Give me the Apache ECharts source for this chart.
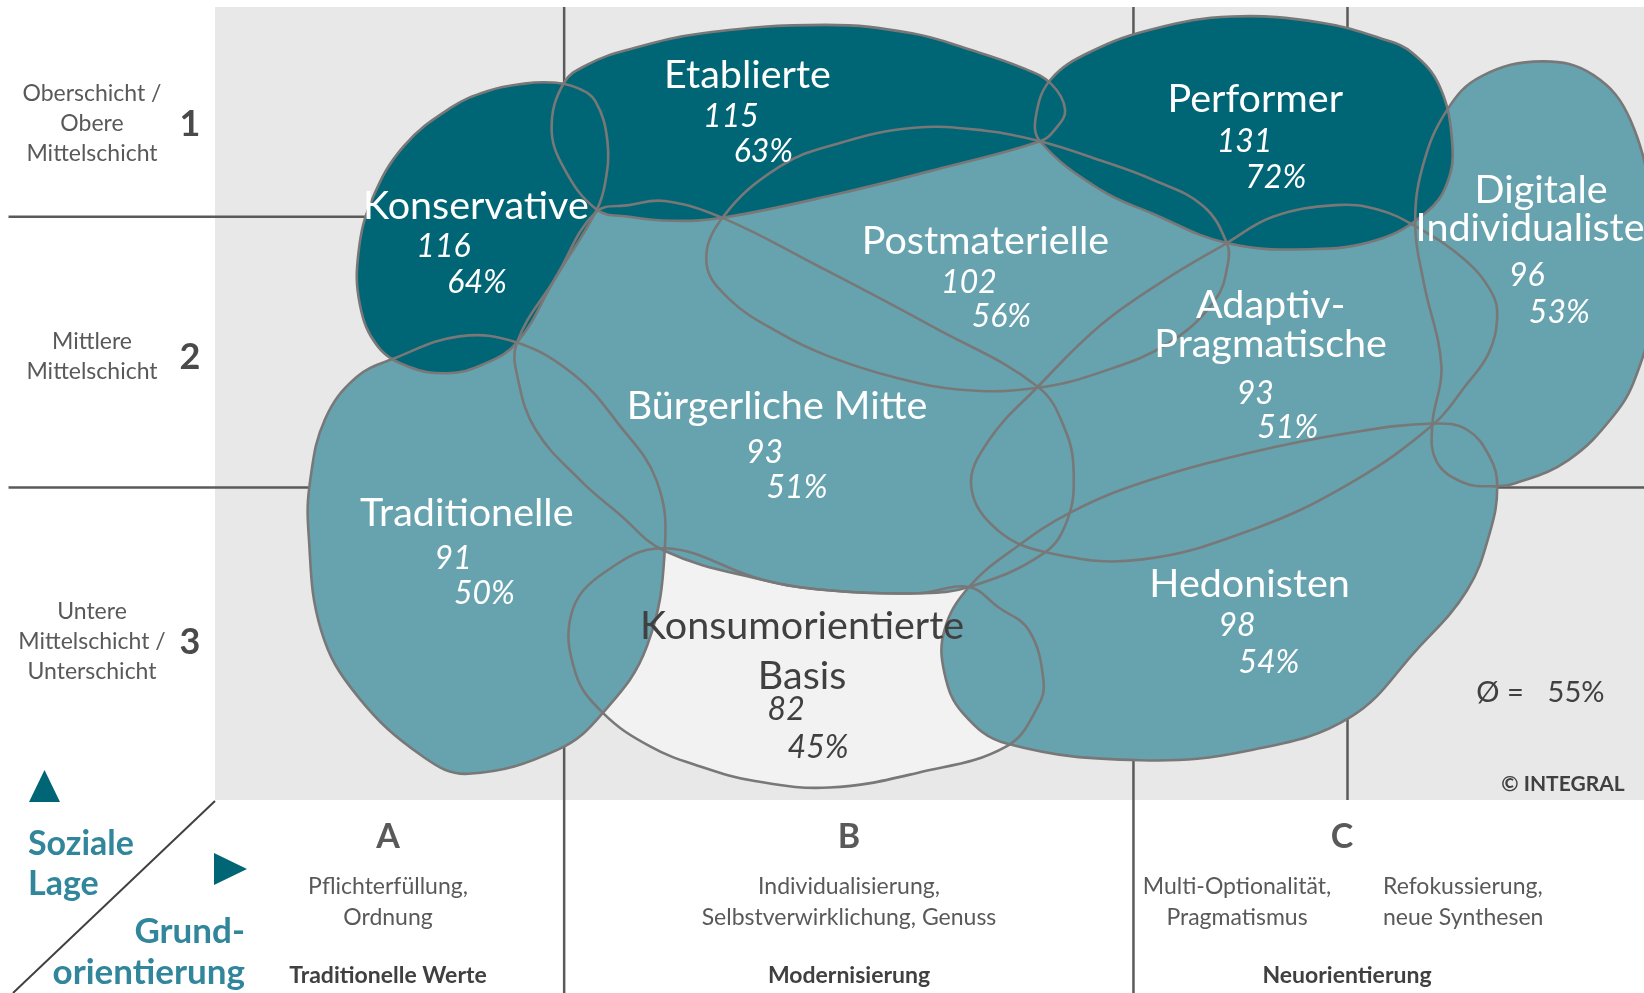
<!DOCTYPE html>
<html>
<head>
<meta charset="utf-8">
<title>Sinus-Milieus</title>
<script src="https://cdn.jsdelivr.net/npm/echarts@6/dist/echarts.min.js"></script>
<style>
html, body { margin: 0; padding: 0; background: #fff; }
#chart { width: 1644px; height: 993px; }
</style>
</head>
<body>
<div id="chart"></div>
<script>
// milieus in drawing order (bottom -> top)
const milieus = ['Konsumorientierte Basis', 'Traditionelle', 'Bürgerliche Mitte', 'Postmaterielle',
    'Adaptiv-Pragmatische', 'Hedonisten', 'Digitale Individualisten', 'Konservative', 'Etablierte', 'Performer'];
const nameLines = [['Konsumorientierte', 'Basis'], ['Traditionelle'], ['Bürgerliche Mitte'], ['Postmaterielle'],
    ['Adaptiv-', 'Pragmatische'], ['Hedonisten'], ['Digitale', 'Individualisten'], ['Konservative'], ['Etablierte'], ['Performer']];
const indexValues = [82, 91, 93, 102, 93, 98, 96, 116, 115, 131];
const shares = [45, 50, 51, 56, 51, 54, 53, 64, 63, 72];
const averageShare = 55;

// axes: x = Grundorientierung (A|B = 100, B|C = 200), y = soziale Lage (3|2 = 100, 2|1 = 200)
const orientationBreaks = [100, 200];
const cSplit = 237.6;
const lageBreaks = [100, 200];
const lageLabels = ['Oberschicht /\nObere\nMittelschicht', 'Mittlere\nMittelschicht', 'Untere\nMittelschicht /\nUnterschicht'];
const lageNumbers = ['1', '2', '3'];
const orientationLetters = ['A', 'B', 'C'];
const orientationTexts = ['Pflichterfüllung,\nOrdnung', 'Individualisierung,\nSelbstverwirklichung, Genuss', 'Multi-Optionalität,\nPragmatismus'];
const cSubText = 'Refokussierung,\nneue Synthesen';
const orientationNames = ['Traditionelle Werte', 'Modernisierung', 'Neuorientierung'];

// milieu outlines in the (Grundorientierung, soziale Lage) plane
const konsumOutline = [[117.7, 77.5], [134.8, 65.9], [146.4, 62.0], [162.1, 60.9], [171.1, 63.2], [176.2, 55.8],
    [181.6, 47.3], [184.2, 28.7], [183.2, 19.0], [177.7, 4.3], [162.2, -5.4], [146.6, -10.9], [133.5, -8.5],
    [123.9, -3.1], [115.1, 4.3], [106.8, 16.7], [102.0, 31.4], [101.3, 53.5], [106.8, 68.2]];
const traditionelleOutline = [[81.6, 155.8], [91.7, 153.5], [101.8, 141.5], [109.6, 123.3], [116.2, 102.7],
    [117.7, 77.9], [114.5, 41.1], [106.8, 16.7], [98.9, 3.1], [83.2, -5.8], [75.3, 0.4], [63.7, 22.9],
    [57.3, 47.3], [55.1, 83.3], [55.4, 102.7], [58.0, 125.2], [63.5, 140.7], [70.2, 147.7]];
const buergerlicheOutline = [[105.5, 201.6], [111.4, 204.3], [117.7, 205.8], [127.8, 199.6], [144.6, 181.8],
    [164.8, 159.3], [183.2, 137.2], [188.0, 121.3], [189.5, 105.4], [188.4, 88.0], [184.2, 75.6], [171.1, 63.2],
    [162.1, 60.9], [146.4, 62.0], [134.8, 65.9], [117.5, 76.7], [109.6, 90.3], [102.8, 102.7], [95.0, 121.3],
    [91.9, 139.9], [91.7, 153.5], [98.5, 177.5]];
const postmaterielleOutline = [[127.8, 199.6], [137.9, 218.6], [148.2, 227.1], [161.5, 232.9], [174.0, 231.8],
    [183.6, 227.9], [194.1, 220.9], [203.5, 213.6], [212.3, 203.9], [216.4, 190.3], [216.6, 182.9], [214.4, 169.4],
    [206.3, 153.5], [194.3, 142.6], [183.2, 136.8], [170.3, 136.0], [158.0, 140.7], [146.4, 148.5], [137.9, 157.0],
    [129.1, 169.4], [125.0, 182.9]];
const adaptivOutline = [[216.4, 190.3], [224.5, 200.0], [235.5, 204.3], [242.9, 202.7], [249.5, 196.5],
    [258.2, 184.1], [263.0, 171.7], [263.9, 163.2], [262.4, 149.6], [258.2, 137.2], [252.7, 123.3], [238.1, 101.6],
    [221.0, 84.5], [201.3, 73.3], [185.6, 75.6], [176.2, 84.1], [171.5, 100.4], [174.6, 117.4], [183.2, 137.2],
    [194.3, 160.1], [205.3, 176.4]];
const hedonistenOutline = [[171.1, 63.2], [179.4, 77.9], [188.9, 90.7], [201.3, 101.6], [220.4, 112.8],
    [238.1, 120.2], [252.7, 123.6], [258.6, 121.3], [262.6, 111.2], [263.9, 100.4], [262.6, 83.3], [258.6, 62.0],
    [249.7, 39.9], [238.1, 15.1], [221.0, 3.1], [201.3, -0.8], [177.7, 5.4], [170.0, 16.7], [166.8, 31.4], [166.8, 47.3]];
const digitaleOutline = [[271.8, 257.4], [280.8, 252.3], [287.3, 235.7], [291.0, 202.7], [291.0, 164.0],
    [288.2, 140.7], [284.3, 126.4], [276.4, 110.1], [267.2, 101.6], [263.0, 100.4], [257.8, 101.9], [253.2, 109.7],
    [252.5, 123.3], [254.1, 144.6], [251.0, 175.6], [249.5, 196.5], [250.8, 218.6], [255.1, 239.5], [261.1, 251.9]];
const konservativeOutline = [[93.0, 249.2], [97.8, 249.6], [102.2, 247.7], [105.5, 242.6], [107.6, 227.9],
    [107.2, 212.4], [105.5, 201.6], [98.5, 177.5], [91.7, 153.5], [85.6, 145.3], [79.6, 142.2], [72.7, 144.6],
    [67.2, 152.3], [64.1, 167.8], [63.9, 187.2], [66.3, 206.6], [71.8, 226.0], [80.1, 240.3], [86.6, 246.5]];
const etablierteOutline = [[100.0, 249.6], [104.1, 256.2], [111.0, 261.6], [124.3, 267.8], [145.9, 270.9],
    [161.1, 267.8], [171.5, 261.6], [180.5, 255.0], [185.5, 249.2], [188.0, 239.5], [186.2, 232.2], [183.6, 227.9],
    [166.7, 218.2], [148.2, 208.5], [127.8, 199.6], [118.8, 198.5], [111.4, 200.0], [105.7, 202.7], [99.8, 218.6],
    [97.8, 233.3]];
const performerOutline = [[183.6, 227.9], [182.9, 237.6], [185.5, 250.8], [192.4, 260.9], [203.5, 269.4],
    [217.3, 274.0], [233.0, 271.7], [244.0, 265.5], [249.0, 260.5], [253.8, 248.1], [256.0, 227.1], [255.1, 212.4],
    [251.4, 201.6], [242.9, 191.5], [230.8, 188.0], [216.4, 190.3], [203.3, 201.2], [194.1, 210.1]];
const outlines = [konsumOutline, traditionelleOutline, buergerlicheOutline, postmaterielleOutline, adaptivOutline,
    hedonistenOutline, digitaleOutline, konservativeOutline, etablierteOutline, performerOutline];

// label anchors (layout)
const nameAnchors = [[141.8, 48.8], [82.9, 90.3], [137.4, 129.8], [174.0, 191.1], [224.1, 167.4],
    [220.4, 64.3], [271.6, 209.7], [84.5, 203.9], [132.2, 252.3], [221.4, 243.4]];
const nameLineGap = [50, 0, 0, 0, 39, 0, 38, 0, 0, 0];
const valueAnchors = [[139.0, 17.8], [80.5, 73.6], [135.2, 112.8], [171.1, 175.6], [221.4, 134.5],
    [218.2, 48.8], [269.1, 178.3], [78.8, 189.1], [129.3, 236.8], [219.5, 227.9]];
const shareAnchors = [[144.6, 3.9], [86.0, 60.9], [140.9, 100.0], [176.8, 163.2], [227.1, 122.1],
    [223.8, 35.3], [274.8, 164.7], [84.7, 175.6], [135.0, 224.0], [225.0, 214.3]];

const X_MIN = 38.67, X_MAX = 289.68, Y_MIN = -15.5, Y_MAX = 277.5;
const PAGE_LEFT = 2.4, PAGE_BOTTOM = -86.8;

const frameSegments = [];
orientationBreaks.forEach(function (x) { frameSegments.push([x, Y_MAX, x, PAGE_BOTTOM]); });
frameSegments.push([cSplit, Y_MAX, cSplit, Y_MIN]);
lageBreaks.forEach(function (y) { frameSegments.push([PAGE_LEFT, y, X_MAX, y]); });

const milieuData = milieus.map(function (m, i) { return { name: m, value: [i, indexValues[i]] }; });

const DARK = '#006575', MID = '#67a3af', LIGHT = '#f2f2f2';
const LINE = '#787878';
const FONT = 'Lato';
const SMOOTH = 0.4;

function blobPoints(api, outline) {
    return outline.map(function (p) { return api.coord(p); });
}

var myChart = echarts.init(document.getElementById('chart'));

// left and bottom texts
const graphics = [];
const lageY = [124, 357, 642];
lageLabels.forEach(function (t, k) {
    graphics.push({ type: 'text', x: 92, y: lageY[k], style: { text: t, fill: '#595959', font: '23px ' + FONT, align: 'center', verticalAlign: 'middle', lineHeight: 30 } });
    graphics.push({ type: 'text', x: 190, y: lageY[k], style: { text: lageNumbers[k], fill: '#4a4a4a', font: 'bold 36px ' + FONT, align: 'center', verticalAlign: 'middle' } });
});
const orientX = [388, 849, 1342];
const descX = [388, 849, 1237];
const nameX = [388, 849, 1347];
orientationLetters.forEach(function (t, k) {
    graphics.push({ type: 'text', x: orientX[k], y: 837, style: { text: t, fill: '#595959', font: 'bold 34px ' + FONT, align: 'center', verticalAlign: 'middle' } });
    graphics.push({ type: 'text', x: descX[k], y: 902, style: { text: orientationTexts[k], fill: '#595959', font: '23px ' + FONT, align: 'center', verticalAlign: 'middle', lineHeight: 31 } });
    graphics.push({ type: 'text', x: nameX[k], y: 976, style: { text: orientationNames[k], fill: '#404040', font: 'bold 23px ' + FONT, align: 'center', verticalAlign: 'middle' } });
});
graphics.push({ type: 'text', x: 1383, y: 902, style: { text: cSubText, fill: '#595959', font: '23px ' + FONT, align: 'left', verticalAlign: 'middle', lineHeight: 31 } });
graphics.push({ type: 'text', x: 1500, y: 693, style: { text: 'Ø =', fill: '#404040', font: '29px ' + FONT, align: 'center', verticalAlign: 'middle' } });
graphics.push({ type: 'text', x: 1576, y: 693, style: { text: averageShare + '%', fill: '#404040', font: '29px ' + FONT, align: 'center', verticalAlign: 'middle' } });
graphics.push({ type: 'text', x: 1563, y: 784, style: { text: '© INTEGRAL', fill: '#404040', font: 'bold 21px ' + FONT, align: 'center', verticalAlign: 'middle' } });
graphics.push({ type: 'polygon', shape: { points: [[29, 802], [60, 802], [44.5, 770]] }, style: { fill: DARK } });
graphics.push({ type: 'polygon', shape: { points: [[214, 853], [247, 869], [214, 885]] }, style: { fill: DARK } });
graphics.push({ type: 'line', shape: { x1: 215, y1: 801, x2: 13, y2: 993 }, style: { stroke: '#404040', lineWidth: 2 } });
graphics.push({ type: 'text', x: 28, y: 844, style: { text: 'Soziale', fill: '#31869b', font: 'bold 34px ' + FONT, align: 'left', verticalAlign: 'middle' } });
graphics.push({ type: 'text', x: 28, y: 884, style: { text: 'Lage', fill: '#31869b', font: 'bold 34px ' + FONT, align: 'left', verticalAlign: 'middle' } });
graphics.push({ type: 'text', x: 245, y: 932, style: { text: 'Grund-', fill: '#31869b', font: 'bold 35px ' + FONT, align: 'right', verticalAlign: 'middle' } });
graphics.push({ type: 'text', x: 245, y: 973, style: { text: 'orientierung', fill: '#31869b', font: 'bold 35px ' + FONT, align: 'right', verticalAlign: 'middle' } });

var option = {
    animation: false,
    grid: {
        left: 215, top: 7, right: 0, bottom: 193,
        show: true, backgroundColor: '#e8e8e8', borderWidth: 0
    },
    xAxis: { type: 'value', min: X_MIN, max: X_MAX, show: false },
    yAxis: { type: 'value', min: Y_MIN, max: Y_MAX, show: false },
    visualMap: {
        type: 'piecewise', show: false, seriesIndex: 1, dimension: 1,
        pieces: [
            { lt: 85, color: LIGHT },
            { gte: 85, lt: 110, color: MID },
            { gte: 110, color: DARK }
        ]
    },
    graphic: graphics,
    series: [{
        // frame lines
        type: 'custom',
        coordinateSystem: 'cartesian2d',
        z: 1,
        silent: true,
        data: frameSegments,
        renderItem: function (params, api) {
            var a = api.coord([api.value(0), api.value(1)]);
            var b = api.coord([api.value(2), api.value(3)]);
            return {
                type: 'line',
                shape: { x1: a[0], y1: a[1], x2: b[0], y2: b[1] },
                style: { stroke: '#5a5a5a', lineWidth: 2.5 }
            };
        }
    }, {
        // milieu fills
        type: 'custom',
        coordinateSystem: 'cartesian2d',
        z: 2,
        data: milieuData,
        renderItem: function (params, api) {
            var i = api.value(0);
            return {
                type: 'polygon',
                shape: { points: blobPoints(api, outlines[i]), smooth: SMOOTH },
                style: { fill: api.visual('color'), stroke: 'none' }
            };
        }
    }, {
        // milieu outlines, all on top of the fills
        type: 'custom',
        coordinateSystem: 'cartesian2d',
        z: 3,
        silent: true,
        data: milieuData,
        renderItem: function (params, api) {
            var i = api.value(0);
            return {
                type: 'polygon',
                shape: { points: blobPoints(api, outlines[i]), smooth: SMOOTH },
                style: { fill: 'none', stroke: LINE, lineWidth: 2.6 }
            };
        }
    }, {
        // milieu labels
        type: 'custom',
        coordinateSystem: 'cartesian2d',
        z: 4,
        silent: true,
        data: milieuData,
        renderItem: function (params, api) {
            var i = api.value(0);
            var color = indexValues[i] < 85 ? '#404040' : '#ffffff';
            var children = [];
            var p = api.coord(nameAnchors[i]);
            nameLines[i].forEach(function (line, k) {
                children.push({
                    type: 'text', x: p[0], y: p[1] + k * nameLineGap[i],
                    style: { text: line, fill: color, font: '39.5px ' + FONT, align: 'center', verticalAlign: 'middle' }
                });
            });
            var v = api.coord(valueAnchors[i]);
            children.push({
                type: 'text', x: v[0], y: v[1],
                style: { text: String(indexValues[i]), fill: color, font: 'italic 32px ' + FONT, align: 'center', verticalAlign: 'middle' }
            });
            var s = api.coord(shareAnchors[i]);
            children.push({
                type: 'text', x: s[0], y: s[1],
                style: { text: shares[i] + '%', fill: color, font: 'italic 32px ' + FONT, align: 'center', verticalAlign: 'middle' }
            });
            return { type: 'group', children: children };
        }
    }]
};
myChart.setOption(option);
</script>
</body>
</html>
